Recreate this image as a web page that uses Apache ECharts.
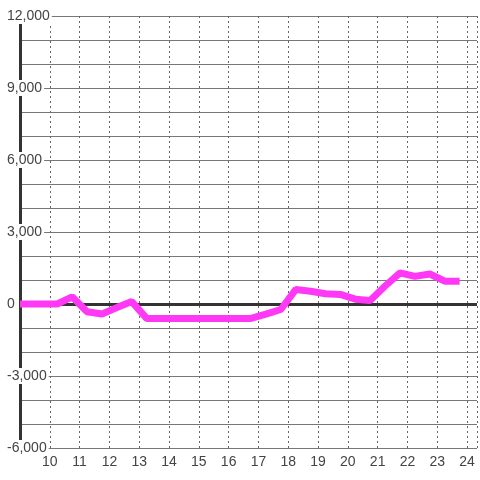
<!DOCTYPE html>
<html>
<head>
<meta charset="utf-8">
<script src="https://cdn.jsdelivr.net/npm/echarts@6/dist/echarts.min.js"></script>
<style>html,body{margin:0;padding:0;background:#fff}#c{width:480px;height:480px}</style>
</head>
<body>
<div id="c"></div>
<script>
var xValues = [9, 9.25, 9.75, 10.25, 10.75, 11.25, 11.75, 12.25, 12.75, 13.25, 13.75, 14.25, 14.75, 15.25, 15.75, 16.25, 16.75, 17.25, 17.75, 18.25, 18.75, 19.25, 19.75, 20.25, 20.75, 21.25, 21.75, 22.25, 22.75, 23.25, 23.75];
var yValues = [0, 0, 0, 0, 300, -320, -420, -150, 100, -600, -600, -600, -600, -600, -600, -600, -600, -420, -230, 600, 530, 430, 400, 200, 150, 750, 1300, 1150, 1250, 950, 950];
var xTickLabels = [10, 11, 12, 13, 14, 15, 16, 17, 18, 19, 20, 21, 22, 23, 24];
var yTickLabels = [-6000, -3000, 0, 3000, 6000, 9000, 12000];

var data = xValues.map(function (x, i) { return [x, yValues[i]]; });
var chart = echarts.init(document.getElementById('c'));
var font = 'Liberation Sans, Arial, sans-serif';
chart.setOption({
  backgroundColor: '#ffffff',
  animation: false,
  grid: { left: 20, right: 0, top: 16, bottom: 32 },
  xAxis: {
    type: 'value', min: 9, max: 24.333, interval: 1,
    axisLine: { show: false }, axisTick: { show: false },
    axisLabel: {
      color: '#444', fontSize: 14, fontFamily: font, margin: 7,
      formatter: function (v) { return xTickLabels.indexOf(v) >= 0 ? String(v) : ''; }
    },
    splitLine: { show: true, lineStyle: { color: '#666', width: 1, type: [2, 3] } }
  },
  yAxis: [{
    type: 'value', min: -6000, max: 12000, interval: 1000, position: 'left',
    axisLine: { show: true, onZero: false, lineStyle: { color: '#333', width: 3 } },
    axisTick: { show: false }, axisLabel: { show: false },
    splitLine: { show: true, lineStyle: { color: '#777', width: 1 } }
  }, {
    type: 'value', min: -6000, max: 12000, interval: 3000, position: 'left',
    axisLine: { show: false }, axisTick: { show: false }, splitLine: { show: false },
    axisLabel: {
      color: '#444', fontSize: 14, fontFamily: font, align: 'left', margin: 15,
      backgroundColor: '#ffffff', padding: [2, 2, 0, 2],
      formatter: function (v) { return yTickLabels.indexOf(v) >= 0 ? v.toLocaleString('en-US') : ''; }
    }
  }],
  series: [{
    type: 'line', data: data, yAxisIndex: 0, showSymbol: false, clip: false,
    lineStyle: { color: '#ff38f5', width: 7 },
    markLine: {
      silent: true, symbol: ['none', 'none'], label: { show: false },
      lineStyle: { color: '#333', width: 3, type: 'solid' },
      data: [{ yAxis: 0 }], z: 1
    },
    z: 3
  }]
});
</script>
</body>
</html>
